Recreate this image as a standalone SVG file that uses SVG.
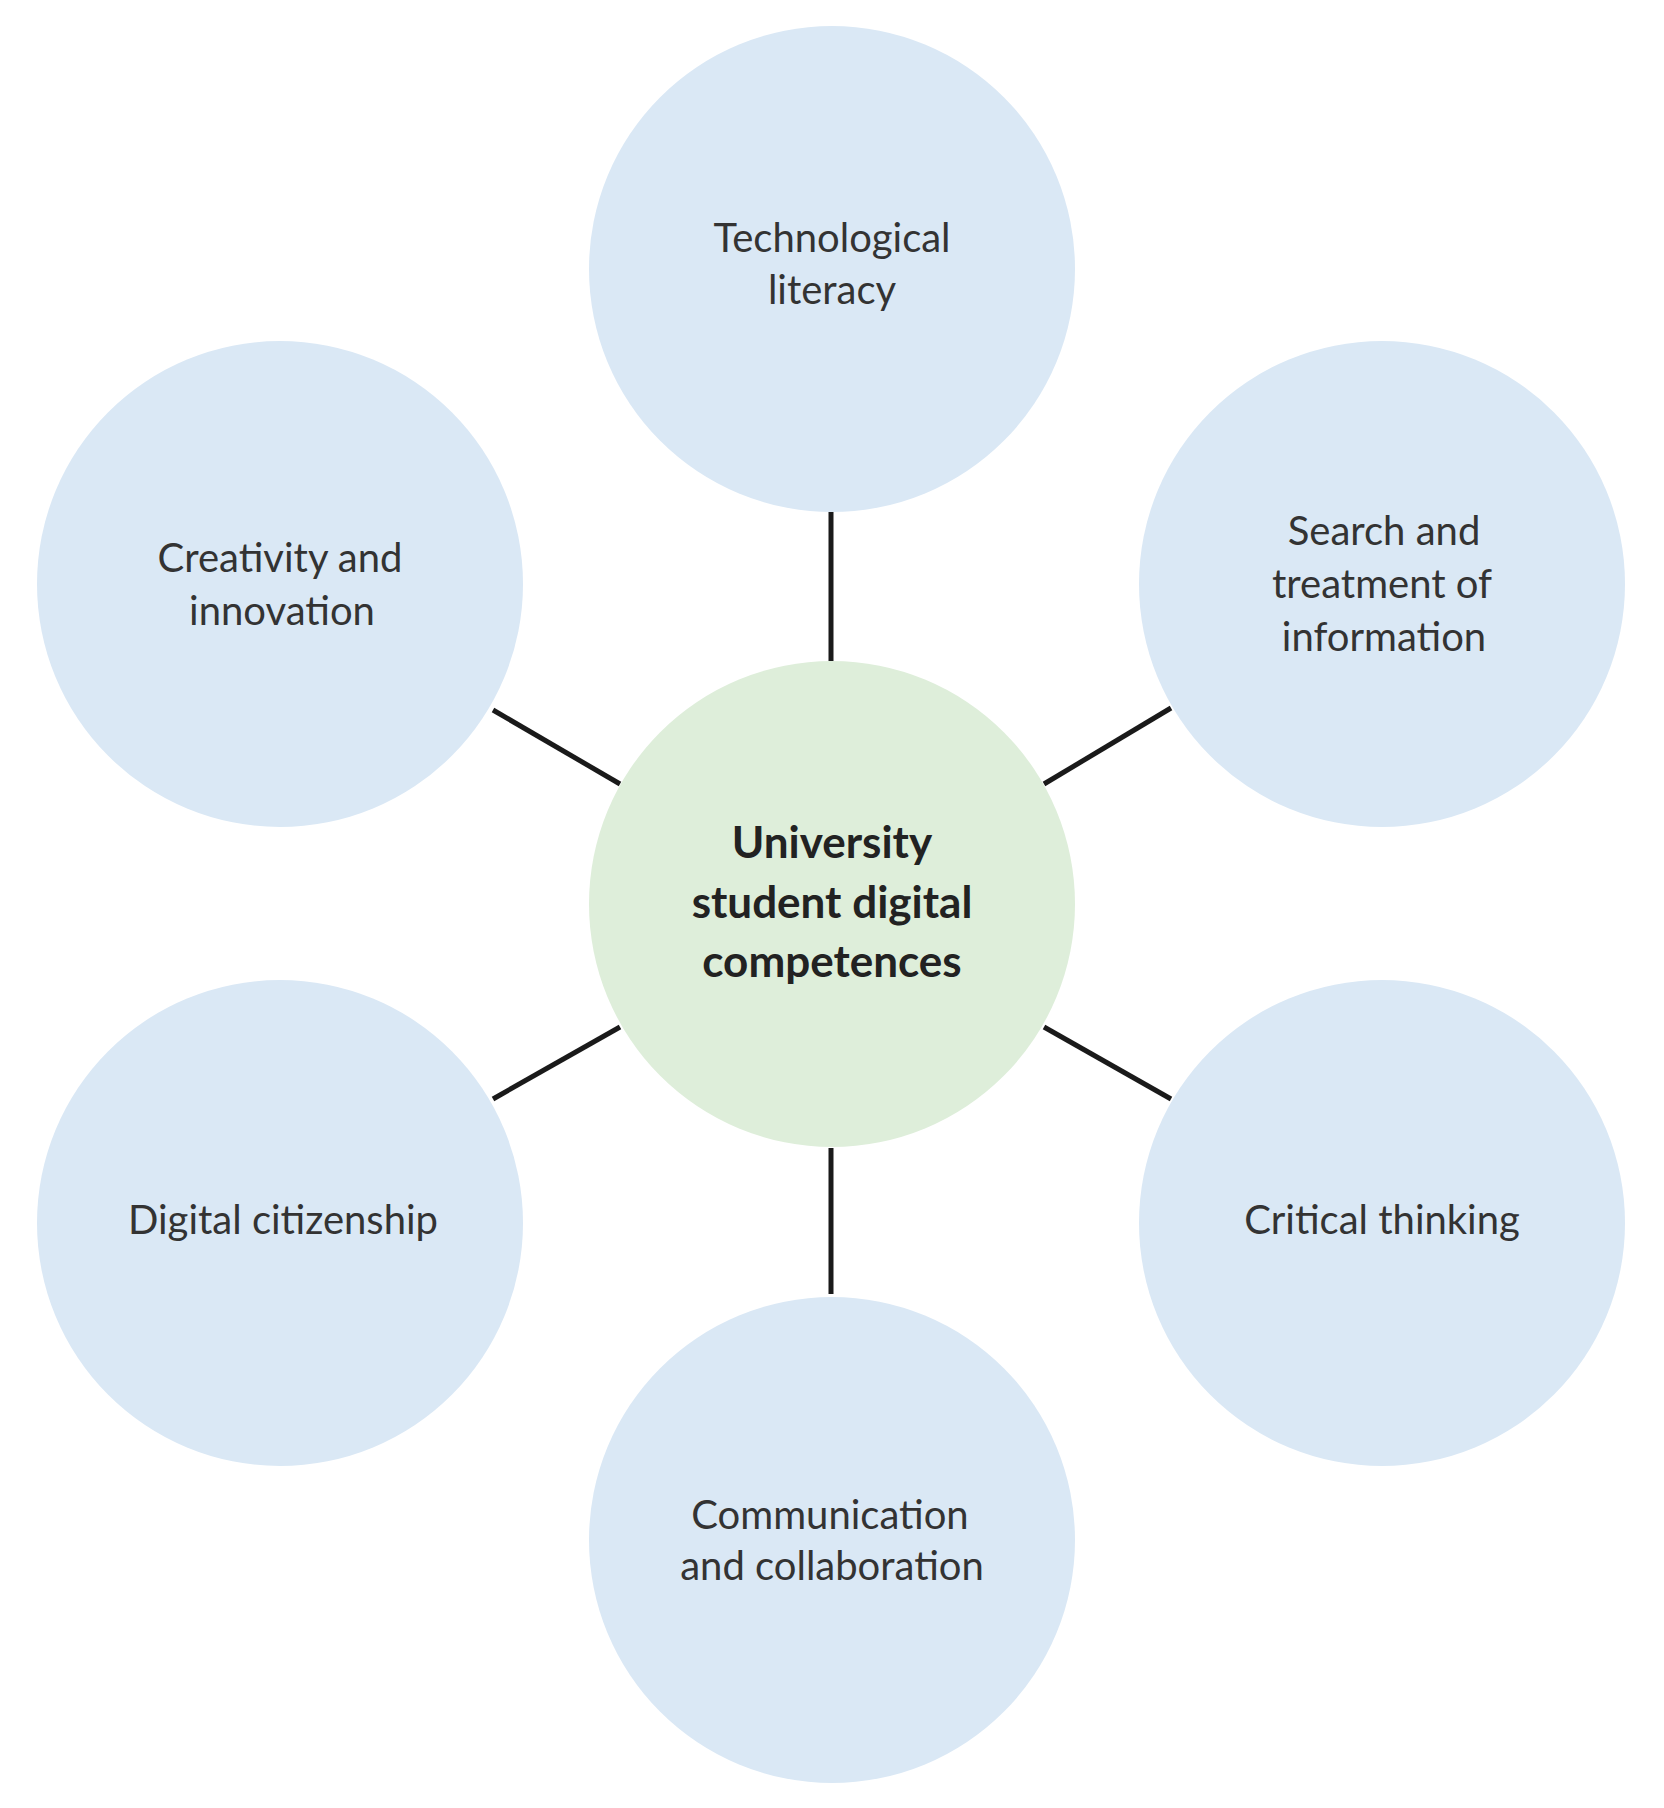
<svg xmlns="http://www.w3.org/2000/svg" width="1664" height="1808" viewBox="0 0 1664 1808">
<style>
.n{fill:#DAE8F5}
.c{fill:#DEEEDA}
text{font-family:Lato,"Open Sans","Liberation Sans",sans-serif;font-size:40px;fill:#333;text-anchor:middle}
.b{font-weight:bold;font-size:44px;fill:#222}
.l line{stroke:#1a1a1a;stroke-width:5}
</style>
<rect width="1664" height="1808" fill="#fff"/>
<g class="l" id="connectors">
<line x1="831" y1="512" x2="831" y2="661"/>
<line x1="831" y1="1148" x2="831" y2="1294"/>
<line x1="493" y1="710" x2="620" y2="784"/>
<line x1="1044" y1="784" x2="1171" y2="708"/>
<line x1="493" y1="1099" x2="620" y2="1027"/>
<line x1="1044" y1="1027" x2="1171" y2="1099"/>
</g>
<g id="center"><circle class="c" cx="832" cy="904" r="243"/>
<text class="b" x="832" y="858">University</text><text class="b" x="832" y="918">student digital</text><text class="b" x="832" y="977">competences</text></g>
<g id="tech"><circle class="n" cx="832" cy="269" r="243"/>
<text x="832" y="252">Technological</text><text x="832" y="304">literacy</text></g>
<g id="search"><circle class="n" cx="1382" cy="584" r="243"/>
<text x="1384" y="545">Search and</text><text x="1382" y="598">treatment of</text><text x="1384" y="651">information</text></g>
<g id="creativity"><circle class="n" cx="280" cy="584" r="243"/>
<text x="280" y="572">Creativity and</text><text x="282" y="625">innovation</text></g>
<g id="digital"><circle class="n" cx="280" cy="1223" r="243"/>
<text x="283" y="1234">Digital citizenship</text></g>
<g id="critical"><circle class="n" cx="1382" cy="1223" r="243"/>
<text x="1382" y="1234">Critical thinking</text></g>
<g id="comm"><circle class="n" cx="832" cy="1540" r="243"/>
<text x="830" y="1529">Communication</text><text x="832" y="1580">and collaboration</text></g>
</svg>
